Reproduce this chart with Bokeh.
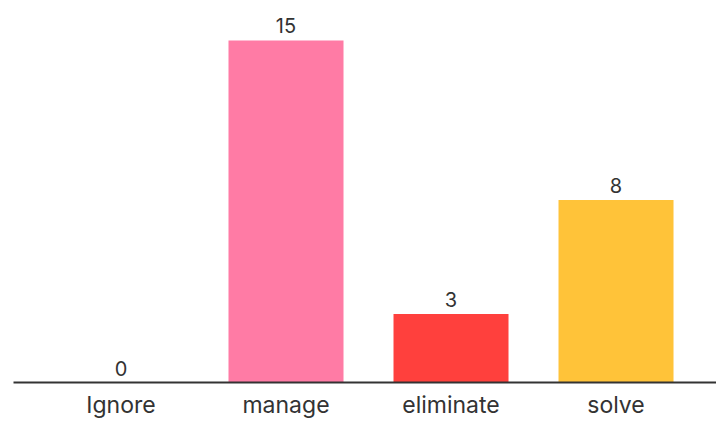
from bokeh.plotting import figure
from bokeh.models import ColumnDataSource, Range1d, FixedTicker
from bokeh.core.properties import value
from bokeh.embed import file_html
from bokeh.resources import INLINE

categories = ["Ignore", "manage", "eliminate", "solve"]
counts = [0, 15, 3, 8]
colors = ["#FF7BA5", "#FF7BA5", "#FF403D", "#FFC339"]

idx = list(range(len(categories)))
src = ColumnDataSource(dict(x=idx, top=counts, color=colors,
                            label=[str(c) for c in counts]))

p = figure(width=716, height=421, output_backend="svg", toolbar_location=None,
           x_range=Range1d(-0.6515, 3.609), y_range=Range1d(0, 16.75),
           min_border_left=13, min_border_right=0, min_border_top=0,
           min_border_bottom=0)
p.outline_line_color = None
p.background_fill_color = "white"
p.border_fill_color = "white"

p.vbar(x="x", top="top", width=0.697, bottom=0, color="color", line_color=None,
       source=src)
p.text(x="x", y="top", text="label", source=src, y_offset=-7,
       text_align="center", text_baseline="bottom",
       text_font=value("Inter"), text_font_size="20px", text_color="#333333")

p.yaxis.visible = False
p.grid.visible = False
ax = p.xaxis[0]
ax.ticker = FixedTicker(ticks=idx)
ax.major_label_overrides = {i: c for i, c in enumerate(categories)}
ax.axis_line_color = "#333333"
ax.axis_line_width = 2
ax.major_tick_line_color = None
ax.minor_tick_line_color = None
ax.major_tick_out = 0
ax.major_tick_in = 0
ax.major_label_standoff = 8
ax.major_label_text_font = "Inter"
ax.major_label_text_font_size = "23px"
ax.major_label_text_color = "#333333"

open("out.html", "w").write(file_html(p, INLINE))
